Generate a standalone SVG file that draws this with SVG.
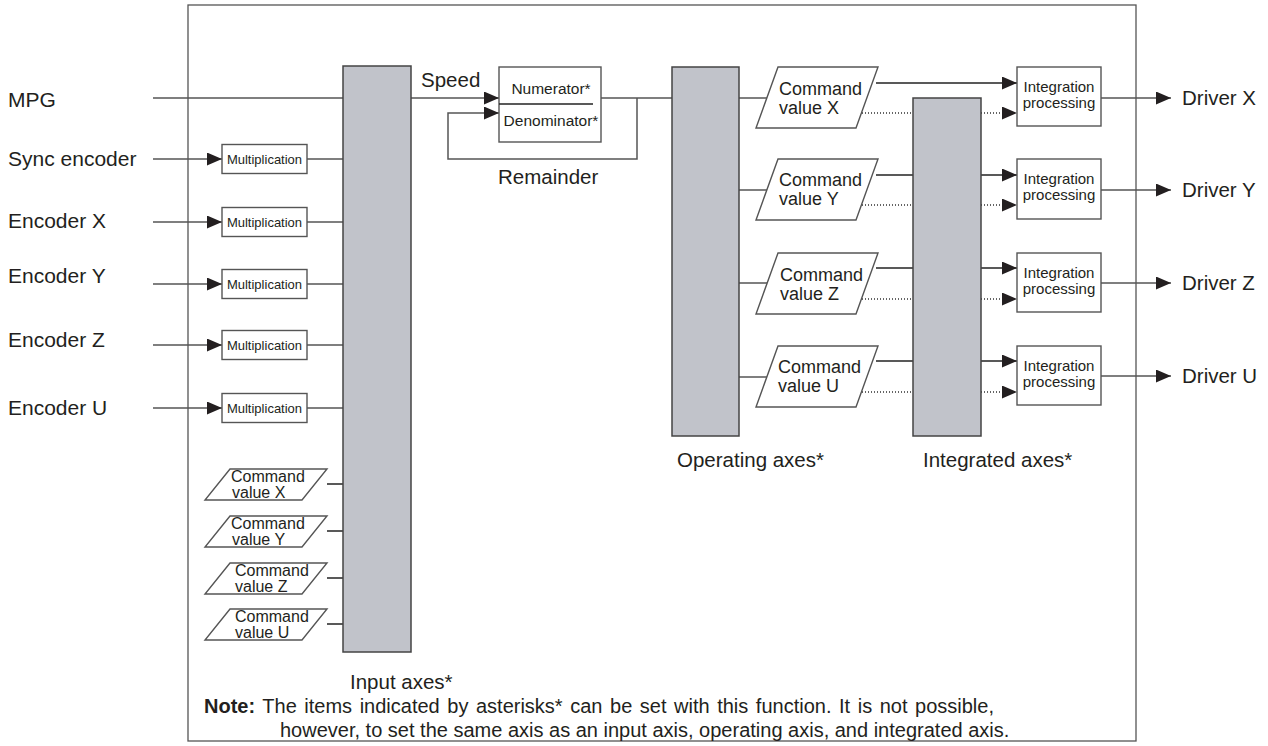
<svg xmlns="http://www.w3.org/2000/svg" width="1268" height="746" viewBox="0 0 1268 746">
<style>
text{font-family:"Liberation Sans",Arial,sans-serif;fill:#231f20}
.lg{font-size:20.5px}
.lf{font-size:21px}
.cv{font-size:18px}
.cs{font-size:16px}
.ip{font-size:15px;text-anchor:middle}
.mu{font-size:13px;text-anchor:middle}
.nd{font-size:15.5px;text-anchor:middle}
.nt{font-size:20px}
.ln{stroke:#555;stroke-width:1.5;fill:none}
.lk{stroke:#222;stroke-width:1.3;fill:none}
.dt{stroke:#333;stroke-width:1.3;fill:none;stroke-dasharray:1 2}
.bar{fill:#c1c3ca;stroke:#444;stroke-width:1.5}
.box{fill:#fff;stroke:#555;stroke-width:1.4}
</style>
<defs>
<marker id="ah" markerUnits="userSpaceOnUse" markerWidth="15" markerHeight="13" refX="15" refY="6.5" orient="auto">
<path d="M0,0 L15,6.5 L0,13 z" fill="#231f20"/>
</marker>
</defs>
<rect id="frame" x="188" y="5" width="948" height="736" fill="none" stroke="#555" stroke-width="1.3"/>
<g id="connectors">
<line class="ln" x1="153" y1="98" x2="343" y2="98"/>
<line class="ln" x1="153" y1="159" x2="222" y2="159" marker-end="url(#ah)"/>
<line class="ln" x1="307" y1="159" x2="343" y2="159"/>
<line class="ln" x1="153" y1="222" x2="222" y2="222" marker-end="url(#ah)"/>
<line class="ln" x1="307" y1="222" x2="343" y2="222"/>
<line class="ln" x1="153" y1="284" x2="222" y2="284" marker-end="url(#ah)"/>
<line class="ln" x1="307" y1="284" x2="343" y2="284"/>
<line class="ln" x1="153" y1="345" x2="222" y2="345" marker-end="url(#ah)"/>
<line class="ln" x1="307" y1="345" x2="343" y2="345"/>
<line class="ln" x1="153" y1="408" x2="222" y2="408" marker-end="url(#ah)"/>
<line class="ln" x1="307" y1="408" x2="343" y2="408"/>
<line class="lk" x1="327" y1="484" x2="379" y2="484"/>
<line class="lk" x1="327" y1="531" x2="379" y2="531"/>
<line class="lk" x1="327" y1="578" x2="379" y2="578"/>
<line class="lk" x1="327" y1="624" x2="379" y2="624"/>
<line class="ln" x1="411" y1="98" x2="499" y2="98" marker-end="url(#ah)"/>
<polyline class="ln" points="601,98 672,98"/>
<polyline class="ln" points="637,98 637,159 448,159 448,113 499,113" marker-end="url(#ah)"/>
<line class="ln" x1="739" y1="98" x2="767" y2="98"/>
<line class="ln" x1="739" y1="190" x2="767" y2="190"/>
<line class="ln" x1="739" y1="283" x2="767" y2="283"/>
<line class="ln" x1="739" y1="377" x2="767" y2="377"/>
<line class="lk" x1="876" y1="83" x2="1017" y2="83" marker-end="url(#ah)"/>
<line class="dt" x1="862" y1="113" x2="913" y2="113"/>
<line class="dt" x1="981" y1="113" x2="1017" y2="113" marker-end="url(#ah)"/>
<line class="lk" x1="876" y1="175" x2="913" y2="175"/>
<line class="lk" x1="981" y1="175" x2="1017" y2="175" marker-end="url(#ah)"/>
<line class="dt" x1="862" y1="205" x2="913" y2="205"/>
<line class="dt" x1="981" y1="205" x2="1017" y2="205" marker-end="url(#ah)"/>
<line class="lk" x1="876" y1="268" x2="913" y2="268"/>
<line class="lk" x1="981" y1="268" x2="1017" y2="268" marker-end="url(#ah)"/>
<line class="dt" x1="862" y1="299" x2="913" y2="299"/>
<line class="dt" x1="981" y1="299" x2="1017" y2="299" marker-end="url(#ah)"/>
<line class="lk" x1="876" y1="361" x2="913" y2="361"/>
<line class="lk" x1="981" y1="361" x2="1017" y2="361" marker-end="url(#ah)"/>
<line class="dt" x1="862" y1="392" x2="913" y2="392"/>
<line class="dt" x1="981" y1="392" x2="1017" y2="392" marker-end="url(#ah)"/>
<line class="ln" x1="1101" y1="98" x2="1171" y2="98" marker-end="url(#ah)"/>
<line class="ln" x1="1101" y1="190" x2="1171" y2="190" marker-end="url(#ah)"/>
<line class="ln" x1="1101" y1="283" x2="1171" y2="283" marker-end="url(#ah)"/>
<line class="ln" x1="1101" y1="376" x2="1171" y2="376" marker-end="url(#ah)"/>
</g>
<g id="inputs">
<text class="lf" x="8" y="107">MPG</text>
<text class="lf" x="8" y="166">Sync encoder</text>
<text class="lf" x="8" y="228">Encoder X</text>
<text class="lf" x="8" y="283">Encoder Y</text>
<text class="lf" x="8" y="347">Encoder Z</text>
<text class="lf" x="8" y="415">Encoder U</text>
</g>
<g id="mult-sync"><rect class="box" x="222" y="144.5" width="85" height="29"/><text class="mu" x="264.5" y="163.5">Multiplication</text></g>
<g id="mult-x"><rect class="box" x="222" y="207.5" width="85" height="29"/><text class="mu" x="264.5" y="226.5">Multiplication</text></g>
<g id="mult-y"><rect class="box" x="222" y="269.5" width="85" height="29"/><text class="mu" x="264.5" y="288.5">Multiplication</text></g>
<g id="mult-z"><rect class="box" x="222" y="330.5" width="85" height="29"/><text class="mu" x="264.5" y="349.5">Multiplication</text></g>
<g id="mult-u"><rect class="box" x="222" y="393.5" width="85" height="29"/><text class="mu" x="264.5" y="412.5">Multiplication</text></g>
<g id="in-cmd-x"><polygon class="box" points="230,469 327,469 302,500 205,500"/><text class="cs" x="231" y="482">Command</text><text class="cs" x="232" y="498">value X</text></g>
<g id="in-cmd-y"><polygon class="box" points="230,516 327,516 302,547 205,547"/><text class="cs" x="231" y="529">Command</text><text class="cs" x="232" y="545">value Y</text></g>
<g id="in-cmd-z"><polygon class="box" points="230,563 327,563 302,594 205,594"/><text class="cs" x="235" y="576">Command</text><text class="cs" x="235" y="592">value Z</text></g>
<g id="in-cmd-u"><polygon class="box" points="230,609 327,609 302,640 205,640"/><text class="cs" x="235" y="622">Command</text><text class="cs" x="235" y="638">value U</text></g>
<g id="input-axes"><rect class="bar" x="343" y="66" width="68" height="586"/><text class="lg" x="350" y="689">Input axes*</text></g>
<g id="speed-label"><text class="lg" x="421" y="87">Speed</text></g>
<g id="ratio"><rect class="box" x="499" y="67" width="102" height="75"/><line stroke="#222" stroke-width="1.3" x1="499" y1="104" x2="593" y2="104"/><text class="nd" x="551" y="94">Numerator*</text><text class="nd" x="551" y="126">Denominator*</text></g>
<g id="remainder-label"><text class="lg" x="498" y="184">Remainder</text></g>
<g id="operating-axes"><rect class="bar" x="672" y="67" width="67" height="369"/><text class="lg" x="677" y="467">Operating axes*</text></g>
<g id="op-cmd-x"><polygon class="box" points="778,67 878,67 856,128 756,128"/><text class="cv" x="779" y="95">Command</text><text class="cv" x="779" y="114">value X</text></g>
<g id="op-cmd-y"><polygon class="box" points="778,159 878,159 856,220 756,220"/><text class="cv" x="779" y="186">Command</text><text class="cv" x="779" y="205">value Y</text></g>
<g id="op-cmd-z"><polygon class="box" points="778,253 878,253 856,314 756,314"/><text class="cv" x="780" y="281">Command</text><text class="cv" x="780" y="300">value Z</text></g>
<g id="op-cmd-u"><polygon class="box" points="778,346 878,346 856,407 756,407"/><text class="cv" x="778" y="373">Command</text><text class="cv" x="778" y="392">value U</text></g>
<g id="integrated-axes"><rect class="bar" x="913" y="98" width="68" height="338"/><text class="lg" x="923" y="467">Integrated axes*</text></g>
<g id="int-x"><rect class="box" x="1017" y="67" width="84" height="59"/><text class="ip" x="1059" y="92">Integration</text><text class="ip" x="1059" y="108">processing</text></g>
<g id="int-y"><rect class="box" x="1017" y="159" width="84" height="60"/><text class="ip" x="1059" y="184">Integration</text><text class="ip" x="1059" y="200">processing</text></g>
<g id="int-z"><rect class="box" x="1017" y="253" width="84" height="59"/><text class="ip" x="1059" y="278">Integration</text><text class="ip" x="1059" y="294">processing</text></g>
<g id="int-u"><rect class="box" x="1017" y="346" width="84" height="59"/><text class="ip" x="1059" y="371">Integration</text><text class="ip" x="1059" y="387">processing</text></g>
<g id="outputs">
<text class="lg" x="1182" y="105">Driver X</text>
<text class="lg" x="1182" y="197">Driver Y</text>
<text class="lg" x="1182" y="290">Driver Z</text>
<text class="lg" x="1182" y="383">Driver U</text>
</g>
<g id="note">
<text class="nt" x="204" y="713" word-spacing="2"><tspan font-weight="bold">Note:</tspan> The items indicated by asterisks* can be set with this function. It is not possible,</text>
<text class="nt" x="280" y="737">however, to set the same axis as an input axis, operating axis, and integrated axis.</text>
</g>
</svg>
